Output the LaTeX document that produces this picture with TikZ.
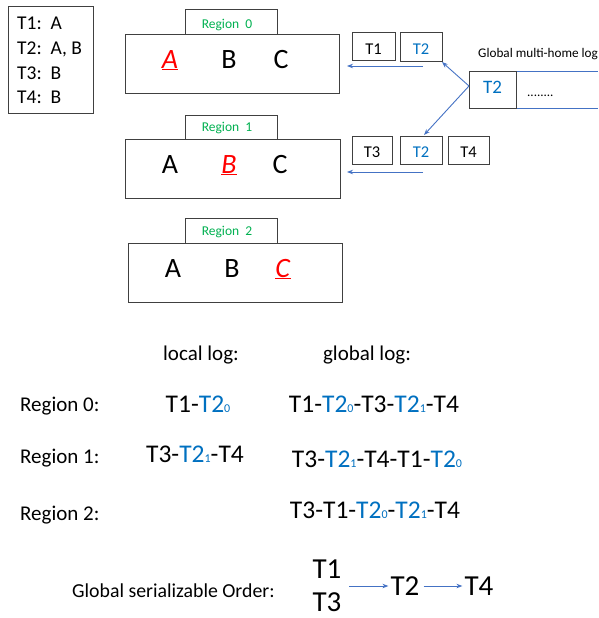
\documentclass[tikz,border=0pt]{standalone}
\usepackage{fontspec}
\setmainfont{Carlito}
\usetikzlibrary{arrows.meta}
\definecolor{tblue}{HTML}{0070C0}
\definecolor{ablue}{HTML}{4472C4}
\definecolor{rgreen}{HTML}{00B050}
\definecolor{bordergray}{HTML}{404040}
\newcommand{\fs}[1]{\fontsize{#1}{#1}\selectfont}
\newcommand{\sbx}[1]{\raisebox{-0.5pt}{\fs{12}#1}}
\newcommand{\bt}[1]{\textcolor{tblue}{#1}}
\newcommand{\redu}[1]{\textcolor{red}{\underline{\textit{#1}}}}
\begin{document}
\begin{tikzpicture}[x=1pt,y=-1pt,
  box/.style={draw=bordergray,line width=1pt},
  txt/.style={inner sep=0,anchor=base},
  txtw/.style={inner sep=0,anchor=base west},
  arr/.style={draw=ablue,line width=0.9pt,-{Stealth[length=6pt,width=4.5pt]}},
  legend/.style={txtw,font=\fs{19.5}},
  letter/.style={txt,font=\fs{28}},
  rlabel/.style={txt,font=\fs{13.5},text=rgreen},
  smallt/.style={txt,font=\fs{16.5}},
  big/.style={txt,font=\fs{25.5}},
  mid/.style={txt,font=\fs{21}},
  midw/.style={txtw,font=\fs{21}}
]
\useasboundingbox (0,0) rectangle (598,618);
% legend
\draw[box] (8,7) rectangle (93,113);
\node[legend] (l1) at (17,30) {T1:\ \ A};
\node[legend] (l2) at (17,54.5) {T2:\ \ A, B};
\node[legend] (l3) at (17,79) {T3:\ \ B};
\node[legend] (l4) at (17,103) {T4:\ \ B};
% region 0
\draw[box] (185,10) rectangle (277,35);
\draw[box] (125,35) rectangle (339,93);
\node[rlabel] (r0) at (227,28.3) {Region\ \ 0};
\node[letter] (a0) at (170,68) {\redu{A}};
\node[letter] (b0) at (229,68) {B};
\node[letter] (c0) at (281,68) {C};
% region 1
\draw[box] (185,115) rectangle (277,139);
\draw[box] (125,139) rectangle (340,198);
\node[rlabel] (r1) at (227,131) {Region\ \ 1};
\node[letter] (a1) at (170,173) {A};
\node[letter] (b1) at (229,173) {\redu{B}};
\node[letter] (c1) at (280,173) {C};
% region 2
\draw[box] (185,218) rectangle (277,243);
\draw[box] (128,243) rectangle (342,302);
\node[rlabel] (r2) at (227,235) {Region\ \ 2};
\node[letter] (a2) at (173,277) {A};
\node[letter] (b2) at (232,277) {B};
\node[letter] (c2) at (283,277) {\redu{C}};
% region 0 queue
\draw[box] (352,33) rectangle (395,61);
\node[smallt] (q01) at (373.5,55) {T1};
\draw[box] (400,33) rectangle (442,62);
\node[smallt,text=tblue] (q02) at (421,55) {T2};
\coordinate (q0s) at (423,66);
\coordinate (q0e) at (347,66);
\draw[arr] (q0s) -- (q0e);
% region 1 queue
\draw[box] (352,136) rectangle (392,164);
\node[smallt] (q11) at (372,157) {T3};
\draw[box] (400,136) rectangle (442,164);
\node[smallt,text=tblue] (q12) at (421,157) {T2};
\draw[box] (448,136) rectangle (489,164);
\node[smallt] (q13) at (468.5,157) {T4};
\coordinate (q1s) at (423,172);
\coordinate (q1e) at (347,172);
\draw[arr] (q1s) -- (q1e);
% global multi-home log
\node[txtw,font=\fs{13.2}] (gml) at (478,57) {Global multi-home log};
\draw[draw=ablue,line width=0.9pt] (516,71) -- (598,71) (516,108) -- (598,108);
\draw[box] (469,71) rectangle (516,108);
\node[txt,font=\fs{19},text=tblue] (gt2) at (492.5,93) {T2};
\node[txtw,font=\fs{13}] (dots) at (527,96) {........};
\coordinate (gv) at (469,86);
\coordinate (t0) at (442,62);
\coordinate (t1) at (424,135);
\draw[arr] (gv) -- (t0);
\draw[arr] (gv) -- (t1);
% logs
\node[mid] (ll) at (201,360) {local log:};
\node[mid] (gl) at (367,360) {global log:};
\node[midw] (rg0) at (20,411.7) {Region 0:};
\node[midw] (rg1) at (20,463) {Region 1:};
\node[midw] (rg2) at (20,520) {Region 2:};
\node[big] (lo0) at (198,412) {T1-\bt{T2\sbx{0}}};
\node[big] (lo1) at (195,462) {T3-\bt{T2\sbx{1}}-T4};
\node[big] (go0) at (374,412) {T1-\bt{T2\sbx{0}}-T3-\bt{T2\sbx{1}}-T4};
\node[big] (go1) at (377,467) {T3-\bt{T2\sbx{1}}-T4-T1-\bt{T2\sbx{0}}};
\node[big] (go2) at (375,518) {T3-T1-\bt{T2\sbx{0}}-\bt{T2\sbx{1}}-T4};
% order
\node[txtw,font=\fs{19.8}] (gso) at (72,597) {Global serializable Order:};
\node[txt,font=\fs{29}] (o1) at (327,578.5) {T1};
\node[txt,font=\fs{29}] (o3) at (327,611.5) {T3};
\node[txt,font=\fs{29}] (o2) at (405,595) {T2};
\node[txt,font=\fs{29}] (o4) at (479,595) {T4};
\coordinate (oa) at (349,586);
\draw[arr] (oa) -- ([xshift=-2pt]o2.west |- oa);
\draw[arr] ([xshift=4pt]o2.east |- oa) -- ([xshift=-2pt]o4.west |- oa);
\end{tikzpicture}
\end{document}
